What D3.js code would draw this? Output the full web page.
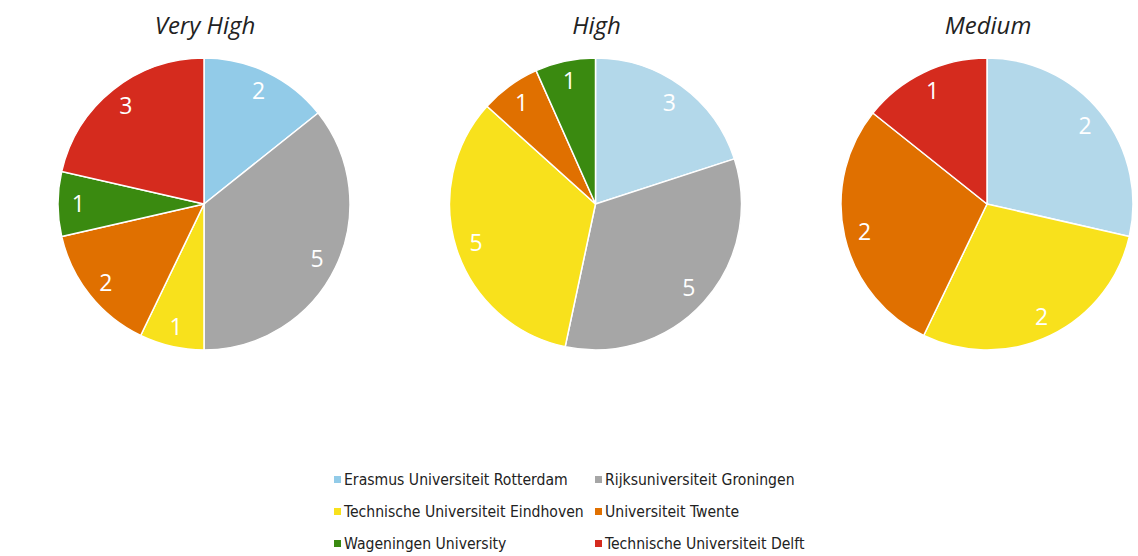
<!DOCTYPE html>
<html><head><meta charset="utf-8">
<script src="https://cdn.jsdelivr.net/npm/d3@7"></script>
<style>body{margin:0;background:#fff;}</style>
</head><body>
<svg id="c" width="1138" height="556"></svg>
<script>
const universities = ["Erasmus Universiteit Rotterdam","Rijksuniversiteit Groningen","Technische Universiteit Eindhoven","Universiteit Twente","Wageningen University","Technische Universiteit Delft"];
const groups = ["Very High","High","Medium"];
const veryHigh = [2,5,1,2,1,3];
const high = [3,5,5,1,1,0];
const medium = [2,0,2,2,0,1];
const colors = ["#92cbe8","#a6a6a6","#f8e11c","#e07000","#3a8a10","#d52b1e"];
const erasmusLight = "#b3d8ea";

const svg = d3.select("#c");
const font = "'Liberation Sans Narrow','DejaVu Sans Condensed','Open Sans',sans-serif";
const series = [veryHigh, high, medium];
const cx = d3.scalePoint().domain(groups).range([204, 987]);
const r = 146, cy = 204;
const pie = d3.pie().sort(null).value(d => d.v);
const arc = d3.arc().innerRadius(0).outerRadius(r);
const labelArc = d3.arc().innerRadius(r*0.86).outerRadius(r*0.86);

groups.forEach((g, gi) => {
  const data = series[gi].map((v, i) => ({v, i})).filter(d => d.v > 0);
  const gg = svg.append("g").attr("transform", `translate(${cx(g)},${cy})`);
  const arcs = pie(data);
  gg.selectAll("path").data(arcs).join("path")
    .attr("d", arc)
    .attr("fill", d => (d.data.i === 0 && gi > 0) ? erasmusLight : colors[d.data.i])
    .attr("stroke", "#fff").attr("stroke-width", 1.5);
  gg.selectAll("text.lbl").data(arcs).join("text").attr("class","lbl")
    .attr("transform", d => `translate(${labelArc.centroid(d)})`)
    .attr("text-anchor","middle").attr("dy","0.36em")
    .attr("fill","#fff").attr("font-family","'Open Sans',sans-serif").attr("font-size",23)
    .text(d => d.data.v);
  svg.append("text").attr("x", cx(g)+1).attr("y", 34)
    .attr("text-anchor","middle").attr("font-family","'Open Sans',sans-serif")
    .attr("font-style","italic").attr("font-size",24).attr("fill","#222")
    .text(g);
});

const legX = [334, 595], legY = [480, 512, 544];
const leg = svg.append("g");
universities.forEach((u, i) => {
  const x = legX[i % 2], y = legY[Math.floor(i / 2)];
  leg.append("rect").attr("x", x).attr("y", y-4).attr("width", 7).attr("height", 7).attr("fill", colors[i]);
  leg.append("text").attr("x", x+10).attr("y", y).attr("dy","0.35em")
    .attr("font-family", font).attr("font-size", 15.6).attr("fill","#222").text(u);
});
</script>
</body></html>
